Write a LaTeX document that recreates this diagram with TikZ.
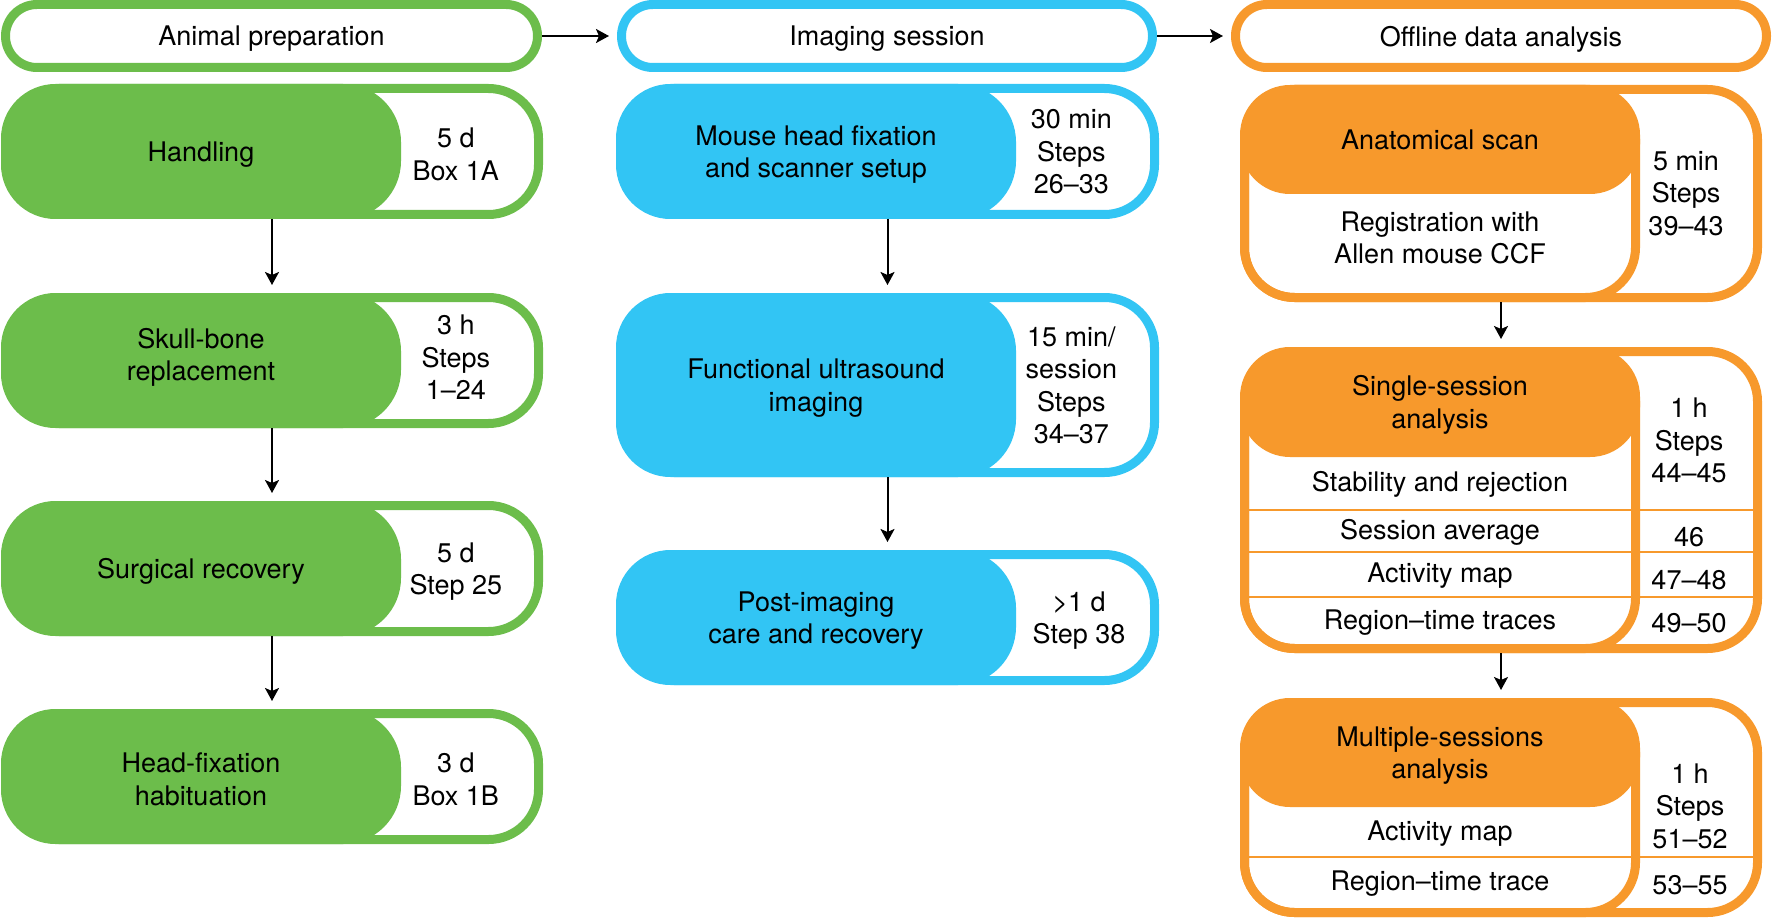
\documentclass[tikz,border=0pt]{standalone}
\usepackage{fontspec}
\setmainfont{TeX Gyre Heros}
\usetikzlibrary{arrows.meta}
\definecolor{cgreen}{RGB}{108,189,75}
\definecolor{cblue}{RGB}{50,197,244}
\definecolor{corange}{RGB}{247,153,44}
\tikzset{
  txt/.style={align=center, font=\fontsize{27}{32.5}\selectfont, inner sep=0pt, text=black, yshift=-3pt},
  ghost/.style={draw=none, inner sep=0pt, outer sep=0pt},
  arr/.style={line width=2pt, -{Stealth[length=13pt,width=14pt,inset=3pt]}, shorten >=8pt},
  boxline/.style={line width=9pt, rounded corners=50pt},
  divline/.style={corange, line width=2.5pt},
}
\def\sidedx{2.3}
\def\sidedy{0}
\def\boxdy{0}
\newcommand{\stagehdr}[5]{%
  \draw[#2, line width=9pt, fill=white, rounded corners=31.4pt] (#3+4.5,4.5) rectangle (#4-4.5,67.5);
  \node[ghost, minimum width={(#4-#3)*1pt}, minimum height=72pt] (#1) at ({(#3+#4)/2},36) {};
  \node[txt] (#1-t) at ({(#3+#4)/2},36) {#5};
}
\newcommand{\stagebox}[9]{%
  \path[draw=#2, fill=white, boxline] (#3+4.5,#6+4.5) rectangle (#4-4.5,#7-4.5);
  \fill[#2, rounded corners=58pt] (#3,#6) rectangle (#5,#7);
  \node[ghost, minimum width={(#4-#3)*1pt}, minimum height={(#7-#6)*1pt}] (#1) at ({(#3+#4)/2},{(#6+#7)/2}) {};
  \node[txt] (#1-main) at ({(#3+#5)/2},{(#6+#7)/2+\boxdy}) {#8};
  \node[txt] (#1-side) at ({(#5+#4)/2-18.5+\sidedx},{(#6+#7)/2+\boxdy+\sidedy}) {#9};
}
\newcommand{\anbg}[2]{%
  \fill[white, rounded corners=50pt] (1244.5,#1+4.5) rectangle (1757.5,#2-4.5);
}
\newcommand{\anfg}[5]{%
  \fill[corange, rounded corners=50pt] (1240,#2) rectangle (1640,#4);
  \draw[corange, boxline] (1244.5,#2+4.5) rectangle (1635.5,#3-4.5);
  \draw[corange, boxline] (1244.5,#2+4.5) rectangle (1757.5,#3-4.5);
  \node[ghost, minimum width=522pt, minimum height={(#3-#2)*1pt}] (#1) at (1501,{(#2+#3)/2}) {};
  \node[txt] (#1-hdr) at (1440,{(#2+#4)/2+\boxdy}) {#5};
}
\begin{document}
\begin{tikzpicture}[x=1pt,y=-1pt]
\useasboundingbox (0,0) rectangle (1772,920);

% headers
\stagehdr{prep}{cgreen}{1}{542}{Animal preparation}
\stagehdr{imh}{cblue}{617}{1157}{Imaging session}
\stagehdr{offh}{corange}{1231}{1771}{Offline data analysis}

% column 1
\stagebox{hand}{cgreen}{1}{543}{401}{84}{219}{Handling}{5 d\\Box 1A}
\def\boxdy{-6}
\stagebox{skull}{cgreen}{1}{543}{401}{293}{428}{Skull-bone\\replacement}{3 h\\Steps\\1–24}
\def\boxdy{0}
\stagebox{surg}{cgreen}{1}{543}{401}{501}{636}{Surgical recovery}{5 d\\Step 25}
\stagebox{habit}{cgreen}{1}{543}{401}{709}{844}{Head-fixation\\habituation}{3 d\\Box 1B}

% column 2
\def\sidedy{-2.5}
\stagebox{fix}{cblue}{616}{1159}{1016}{84}{219}{Mouse head fixation\\and scanner setup}{30 min\\Steps\\26–33}
\stagebox{fus}{cblue}{616}{1159}{1016}{293}{477}{Functional ultrasound\\imaging}{15 min/\\session\\Steps\\34–37}
\def\sidedy{0}
\def\sidedx{10}
\stagebox{post}{cblue}{616}{1159}{1016}{550}{685}{Post-imaging\\care and recovery}{>1 d\\Step 38}
\def\sidedx{2.3}

% column 3: anatomical
\anbg{85}{302}
\def\boxdy{-3}
\anfg{anat}{85}{302}{194}{Anatomical scan}
\def\boxdy{0}
\node[txt] (anat-body) at (1440,235) {Registration with\\Allen mouse CCF};
\node[txt] (anat-side) at (1686,190.5) {5 min\\Steps\\39–43};

% single session
\anbg{347}{653}
\draw[divline] (1240,510) -- (1762,510);
\draw[divline] (1240,552) -- (1762,552);
\draw[divline] (1240,597) -- (1762,597);
\anfg{single}{347}{653}{457}{Single-session\\analysis}
\node[txt] (single-r1) at (1440,481) {Stability and rejection};
\node[txt] (single-r2) at (1440,529) {Session average};
\node[txt] (single-r3) at (1440,573) {Activity map};
\node[txt] (single-r4) at (1440,619.5) {Region–time traces};
\node[txt] (single-s1) at (1689,437.5) {1 h\\Steps\\44–45};
\node[txt] (single-s2) at (1689,534) {46};
\node[txt] (single-s3) at (1689,577) {47–48};
\node[txt] (single-s4) at (1689,620) {49–50};

% multiple sessions
\anbg{698}{917}
\draw[divline] (1240,857) -- (1762,857);
\anfg{multi}{698}{917}{807}{Multiple-sessions\\analysis}
\node[txt] (multi-r1) at (1440,831) {Activity map};
\node[txt] (multi-r2) at (1440,881) {Region–time trace};
\node[txt] (multi-s1) at (1690,803) {1 h\\Steps\\51–52};
\node[txt] (multi-s2) at (1690,882) {53–55};

% connectors
\draw[arr] (prep.east) -- (imh.west);
\draw[arr] (imh.east) -- (offh.west);
\draw[arr] (hand.south) -- (skull.north);
\draw[arr] (skull.south) -- (surg.north);
\draw[arr] (surg.south) -- (habit.north);
\draw[arr] (fix.south) -- (fus.north);
\draw[arr] (fus.south) -- (post.north);
\draw[arr] (anat.south) -- (single.north);
\draw[arr] (single.south) -- (multi.north);
\end{tikzpicture}
\end{document}
